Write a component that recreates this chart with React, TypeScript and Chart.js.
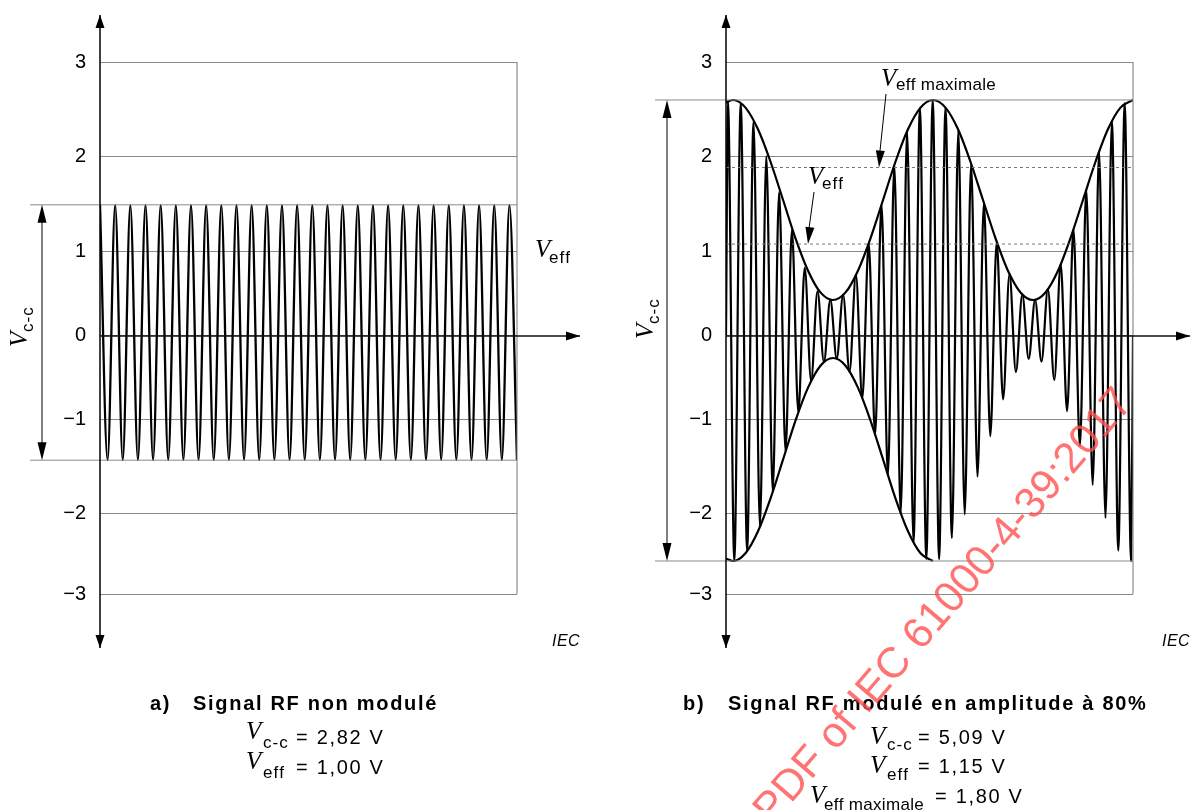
import React, { useEffect, useRef } from 'react';
import { Chart, registerables, LinearScale } from 'chart.js';

Chart.register(...registerables);

// ---------------- Data ----------------
const yTickValues = [-3, -2, -1, 0, 1, 2, 3];
const yTickLabels = ['−3', '−2', '−1', '0', '1', '2', '3'];

// Panel a) : unmodulated carrier, one peak and one trough per cycle
const leftPeaks = [1.49, 1.49, 1.49, 1.49, 1.49, 1.49, 1.49, 1.49, 1.49, 1.49, 1.49, 1.49, 1.49, 1.49,
  1.49, 1.49, 1.49, 1.49, 1.49, 1.49, 1.49, 1.49, 1.49, 1.49, 1.49, 1.49, 1.49, 1.49];
const leftTroughs = [-1.43, -1.43, -1.43, -1.43, -1.43, -1.43, -1.43, -1.43, -1.43, -1.43, -1.43, -1.43, -1.43, -1.43,
  -1.43, -1.43, -1.43, -1.43, -1.43, -1.43, -1.43, -1.43, -1.43, -1.43, -1.43, -1.43, -1.43, -1.43];
const leftLevels = [1.49, -1.43];
const leftCycles = 27.5;

// Panel b) : 80 % AM carrier
const rightPeaks = [2.583, 2.564, 2.362, 2.0, 1.624, 1.227, 0.807, 0.534, 0.431, 0.488, 0.724, 1.09, 1.494, 1.907,
  2.265, 2.509, 2.596, 2.514, 2.274, 1.918, 1.508, 1.101, 0.734, 0.492, 0.429, 0.556, 0.852, 1.236, 1.652, 2.05,
  2.372, 2.561];
const rightTroughs = [-2.589, -2.467, -2.163, -1.765, -1.334, -0.908, -0.533, -0.311, -0.27, -0.423, -0.742, -1.158,
  -1.591, -1.999, -2.363, -2.564, -2.566, -2.304, -2.011, -1.606, -1.173, -0.754, -0.43, -0.273, -0.305, -0.524,
  -0.895, -1.278, -1.695, -2.056, -2.46, -2.588];
const upperEnvTimes = [0, 0.55, 1.52, 2.5, 3.48, 4.46, 5.43, 6.41, 7.38, 8.36, 9.34, 10.31, 11.29, 12.27, 13.24,
  14.22, 15.2, 16.17, 17.15, 18.13, 19.1, 20.08, 21.06, 22.03, 23.01, 23.99, 24.96, 25.94, 26.91, 27.89, 28.87,
  29.84, 30.82, 31.8];
const upperEnvValues = [2.57, 2.596, 2.515, 2.284, 1.94, 1.54, 1.14, 0.775, 0.517, 0.427, 0.517, 0.775, 1.14, 1.54,
  1.94, 2.284, 2.515, 2.596, 2.515, 2.284, 1.94, 1.54, 1.14, 0.775, 0.517, 0.427, 0.517, 0.775, 1.14, 1.54, 1.94,
  2.284, 2.515, 2.596];
const lowerEnvTimes = [0, 0.55, 1.52, 2.5, 3.48, 4.46, 5.43, 6.41, 7.38, 8.36, 9.34, 10.31, 11.29, 12.27, 13.24,
  14.22, 15.2, 16.17];
const lowerEnvValues = [-2.56, -2.59, -2.494, -2.221, -1.838, -1.422, -1.006, -0.615, -0.354, -0.262, -0.354,
  -0.615, -1.006, -1.422, -1.838, -2.221, -2.494, -2.59];
const rightLevels = [2.596, -2.59];
const rightEffMax = 1.88;
const rightEff = 1.08;
const rightCycles = 31.8;

// ---------------- Layout constants ----------------
// the drawing's grid lines are not evenly spaced: fraction of plot height (from bottom) of each tick
const Y_BREAK_DECIMALS = [0, 0.1513, 0.3271, 0.485, 0.6434, 0.8233, 1];
const GRID = '#8a8a8a';
const SANS = '"Liberation Sans", Arial, sans-serif';
const SERIF = '"Liberation Serif", "Times New Roman", serif';
const CAP = `bold 20px ${SANS}`;
const REG = `20px ${SANS}`;
const SP = 1.7;

function interp(v: number, xs: number[], ys: number[]) {
  const n = xs.length;
  let i = 0;
  if (v <= xs[0]) i = 0;
  else if (v >= xs[n - 1]) i = n - 2;
  else { while (i < n - 2 && v > xs[i + 1]) i++; }
  const t = (v - xs[i]) / (xs[i + 1] - xs[i]);
  return ys[i] + t * (ys[i + 1] - ys[i]);
}

class PiecewiseScale extends LinearScale {
  getPixelForValue(value: any) {
    if (value === null || value === undefined || Number.isNaN(value)) return NaN;
    return this.getPixelForDecimal(interp(value, yTickValues, Y_BREAK_DECIMALS));
  }
  getValueForPixel(pixel: number) {
    return interp(this.getDecimalForPixel(pixel), Y_BREAK_DECIMALS, yTickValues);
  }
}
(PiecewiseScale as any).id = 'piecewise';
Chart.register(PiecewiseScale as any);

// ---------------- drawing helpers ----------------
function seg(ctx: CanvasRenderingContext2D, x1: number, y1: number, x2: number, y2: number, color: string, w: number) {
  ctx.save();
  ctx.strokeStyle = color; ctx.lineWidth = w; ctx.setLineDash([]);
  ctx.beginPath(); ctx.moveTo(x1, y1); ctx.lineTo(x2, y2); ctx.stroke();
  ctx.restore();
}
function head(ctx: CanvasRenderingContext2D, tx: number, ty: number, dx: number, dy: number, len: number, hw: number) {
  const l = Math.hypot(dx, dy); const ux = dx / l, uy = dy / l;
  const bx = tx - ux * len, by = ty - uy * len;
  ctx.save(); ctx.fillStyle = '#000';
  ctx.beginPath(); ctx.moveTo(tx, ty);
  ctx.lineTo(bx - uy * hw, by + ux * hw); ctx.lineTo(bx + uy * hw, by - ux * hw);
  ctx.closePath(); ctx.fill(); ctx.restore();
}
function spaced(ctx: CanvasRenderingContext2D, text: string, x: number, y: number, sp: number) {
  let cx = x;
  for (const ch of Array.from(text)) { ctx.fillText(ch, cx, y); cx += ctx.measureText(ch).width + sp; }
  return cx;
}
function sym(ctx: CanvasRenderingContext2D, x: number, base: number, sub: string, subX: number, subBase: number, subSp = 1) {
  ctx.font = `italic 25px ${SERIF}`; ctx.fillText('V', x, base);
  ctx.font = `17px ${SANS}`; spaced(ctx, sub, subX, subBase, subSp);
}
function text(ctx: CanvasRenderingContext2D, s: string, x: number, y: number, font: string, sp: number) {
  ctx.font = font; spaced(ctx, s, x, y, sp);
}
function rotatedVcc(ctx: CanvasRenderingContext2D, x: number, y: number) {
  ctx.save(); ctx.translate(x, y); ctx.rotate(-Math.PI / 2);
  ctx.font = `italic 25px ${SERIF}`; ctx.fillText('V', 0, 0);
  ctx.font = `17px ${SANS}`; spaced(ctx, 'c-c', 15, 6, 1);
  ctx.restore();
}
function axes(ctx: CanvasRenderingContext2D, a: any, y0: number, xEnd: number) {
  seg(ctx, a.left, 15, a.left, 648, '#000', 1.5);
  head(ctx, a.left, 15, 0, -1, 13, 4.5); head(ctx, a.left, 648, 0, 1, 13, 4.5);
  seg(ctx, a.left, y0, xEnd, y0, '#111', 1.5);
  head(ctx, xEnd, y0, 1, 0, 14, 4.5);
}
function dimension(ctx: CanvasRenderingContext2D, a: any, ys: any, levels: number[], extStart: number, dimX: number) {
  const yt = ys.getPixelForValue(levels[0]); const yb = ys.getPixelForValue(levels[1]);
  seg(ctx, extStart, yt, a.left, yt, GRID, 1);
  seg(ctx, extStart, yb, a.left, yb, GRID, 1);
  seg(ctx, dimX, yt + 10, dimX, yb - 10, '#000', 1);
  head(ctx, dimX, yt, 0, -1, 18, 4.5); head(ctx, dimX, yb, 0, 1, 18, 4.5);
}

const leftDecor = {
  id: 'leftDecor',
  afterDraw(chart: any) {
    const ctx: CanvasRenderingContext2D = chart.ctx; const a = chart.chartArea; const ys = chart.scales.y;
    ctx.save(); ctx.fillStyle = '#000'; ctx.textBaseline = 'alphabetic'; ctx.textAlign = 'left';
    seg(ctx, a.right, a.top, a.right, a.bottom, '#777', 1);
    dimension(ctx, a, ys, leftLevels, 30, 42);
    axes(ctx, a, ys.getPixelForValue(0), 580);
    rotatedVcc(ctx, 27, 347);
    sym(ctx, 535, 257, 'eff', 549, 263);
    text(ctx, 'IEC', 552, 646, `italic 16px ${SANS}`, 0.5);
    text(ctx, 'a)', 150, 710, CAP, SP);
    text(ctx, 'Signal RF non modulé', 193, 710, CAP, SP);
    sym(ctx, 246, 739, 'c-c', 263, 748);
    text(ctx, '= 2,82 V', 296, 744, REG, SP);
    sym(ctx, 246, 769, 'eff', 263, 778);
    text(ctx, '= 1,00 V', 296, 774, REG, SP);
    ctx.restore();
  },
};

const OX = 600;
const rightDecor = {
  id: 'rightDecor',
  afterDraw(chart: any) {
    const ctx: CanvasRenderingContext2D = chart.ctx; const a = chart.chartArea; const ys = chart.scales.y;
    const P = (px: number) => px - OX;
    ctx.save(); ctx.fillStyle = '#000'; ctx.textBaseline = 'alphabetic'; ctx.textAlign = 'left';
    seg(ctx, a.right, a.top, a.right, a.bottom, '#777', 1);
    dimension(ctx, a, ys, rightLevels, P(655), P(667));
    axes(ctx, a, ys.getPixelForValue(0), P(1190));
    rotatedVcc(ctx, P(653), 339);
    // V eff maximale annotation
    sym(ctx, P(881), 86, 'eff maximale', P(896), 90, 0.3);
    const yMax = ys.getPixelForValue(rightEffMax);
    seg(ctx, P(886), 94, P(879.5), yMax - 12, '#000', 1);
    head(ctx, P(879), yMax, -0.6 / 7.4, 1, 17, 4.5);
    // V eff annotation
    sym(ctx, P(808), 184, 'eff', P(822), 189);
    const yEff = ys.getPixelForValue(rightEff);
    seg(ctx, P(814), 192, P(808.5), yEff - 12, '#000', 1);
    head(ctx, P(808), yEff, -0.6 / 5.3, 1, 17, 4.5);
    text(ctx, 'IEC', P(1162), 646, `italic 16px ${SANS}`, 0.5);
    text(ctx, 'b)', P(683), 710, CAP, SP);
    text(ctx, 'Signal RF modulé en amplitude à 80%', P(728), 710, CAP, SP);
    sym(ctx, P(870), 744, 'c-c', P(887), 750);
    text(ctx, '= 5,09 V', P(918), 744, REG, SP);
    sym(ctx, P(870), 773, 'eff', P(887), 780);
    text(ctx, '= 1,15 V', P(918), 773, REG, SP);
    sym(ctx, P(810), 803, 'eff maximale', P(824), 810, 0.3);
    text(ctx, '= 1,80 V', P(935), 803, REG, SP);
    // watermark
    ctx.save();
    ctx.translate(P(772), 826); ctx.rotate(-49.4 * Math.PI / 180);
    ctx.fillStyle = 'rgba(255, 80, 80, 0.8)';
    ctx.font = `43px ${SANS}`;
    ctx.fillText('PDF of IEC 61000-4-39:2017', 0, 0);
    ctx.restore();
    ctx.restore();
  },
};

function levelSet(level: number, max: number, dashed: boolean) {
  return {
    data: [{ x: 0, y: level }, { x: max, y: level }],
    borderColor: dashed ? '#777' : GRID, borderWidth: 1, borderDash: dashed ? [3, 3] : [],
    pointRadius: 0, tension: 0,
  };
}
function curveSet(points: { x: number; y: number }[], width: number) {
  return {
    data: points, borderColor: '#000', borderWidth: width, pointRadius: 0,
    cubicInterpolationMode: 'monotone' as const, borderJoinStyle: 'round' as const, fill: false,
  };
}

function yScale(width: number) {
  return {
    type: 'piecewise', min: -3, max: 3,
    afterFit: (s: any) => { s.width = width; },
    grid: { color: GRID, lineWidth: 1, drawTicks: false },
    border: { display: false },
    ticks: {
      stepSize: 1, padding: 14, color: '#000', font: { family: SANS, size: 20 },
      callback: (v: any) => { const i = yTickValues.indexOf(Number(v)); return i >= 0 ? yTickLabels[i] : ''; },
    },
  };
}

function buildLeft(): any {
  const wave: { x: number; y: number }[] = [];
  leftPeaks.forEach((p, k) => { wave.push({ x: k, y: p }); wave.push({ x: k + 0.5, y: leftTroughs[k] }); });
  return {
    type: 'line',
    data: { datasets: [levelSet(leftLevels[0], leftCycles, false), levelSet(leftLevels[1], leftCycles, false), curveSet(wave, 2.3)] },
    options: {
      animation: false, responsive: false, events: [],
      layout: { padding: { left: 0, right: 83, top: 62, bottom: 216 } },
      plugins: { legend: { display: false }, tooltip: { enabled: false } },
      scales: { x: { type: 'linear', display: false, min: 0, max: leftCycles }, y: yScale(100) },
    },
    plugins: [leftDecor],
  };
}

function buildRight(): any {
  const wave: { x: number; y: number }[] = [{ x: 0, y: 0 }];
  rightPeaks.forEach((p, k) => { wave.push({ x: k + 0.15, y: p }); wave.push({ x: k + 0.65, y: rightTroughs[k] }); });
  wave.push({ x: rightCycles, y: 0 });
  const upper = upperEnvTimes.map((t, i) => ({ x: t, y: upperEnvValues[i] }));
  const lower = lowerEnvTimes.map((t, i) => ({ x: t, y: lowerEnvValues[i] }));
  return {
    type: 'line',
    data: {
      datasets: [
        levelSet(rightLevels[0], rightCycles, false), levelSet(rightLevels[1], rightCycles, false),
        levelSet(rightEffMax, rightCycles, true), levelSet(rightEff, rightCycles, true),
        curveSet(wave, 2.2), curveSet(upper, 2.2), curveSet(lower, 2.2),
      ],
    },
    options: {
      animation: false, responsive: false, events: [],
      layout: { padding: { left: 0, right: 59, top: 62, bottom: 216 } },
      plugins: { legend: { display: false }, tooltip: { enabled: false } },
      scales: { x: { type: 'linear', display: false, min: 0, max: rightCycles }, y: yScale(126) },
    },
    plugins: [rightDecor],
  };
}

function Panel({ left, width, build }: { left: number; width: number; build: () => any }) {
  const ref = useRef<HTMLCanvasElement | null>(null);
  useEffect(() => {
    if (!ref.current) return;
    const chart = new Chart(ref.current, build());
    return () => chart.destroy();
  }, []);
  return (
    <canvas ref={ref} width={width} height={810}
      style={{ position: 'absolute', left, top: 0, width, height: 810 }} />
  );
}

export default function App() {
  return (
    <div style={{ position: 'fixed', left: 0, top: 0, width: 1192, height: 810, background: '#fff', overflow: 'hidden' }}>
      <Panel left={0} width={600} build={buildLeft} />
      <Panel left={600} width={592} build={buildRight} />
    </div>
  );
}
